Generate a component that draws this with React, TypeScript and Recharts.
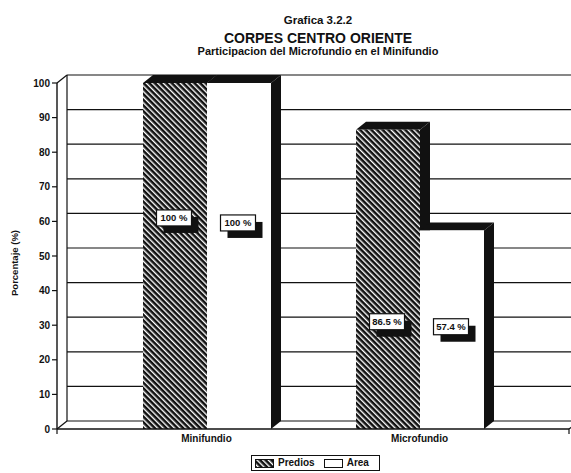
import React from 'react';
import { BarChart, Bar, XAxis, YAxis, CartesianGrid } from 'recharts';

const categories = ['Minifundio', 'Microfundio'];
const prediosPct = [100, 86.5];
const areaPct = [100, 57.4];
const yTicks = [0, 10, 20, 30, 40, 50, 60, 70, 80, 90, 100];
const seriesNames = ['Predios', 'Area'];

const data = categories.map((name, i) => ({ name, predios: prediosPct[i], area: areaPct[i] }));

const FONT = '"Liberation Sans", Arial, Helvetica, sans-serif';
const INK = '#111';
// 3D depth of the walls and bars
const DX = 10;
const DY = -8;

// height (in % of the axis) where the value boxes sit
const labelLevel: Record<string, number> = { Minifundio: 61, Microfundio: 31 };

const valueBox = (cx: number, cy: number, text: string) => {
  const bw = 35;
  const bh = 16;
  return (
    <g>
      <rect x={cx - bw / 2 + 7} y={cy - bh / 2 + 7} width={bw} height={bh} fill={INK} />
      <rect x={cx - bw / 2} y={cy - bh / 2} width={bw} height={bh} fill="#fff" stroke={INK} strokeWidth={1.2} />
      <text x={cx} y={cy} dy="0.35em" textAnchor="middle" fontSize={9.5} fontWeight="bold" fontFamily={FONT} fill={INK}>
        {text}
      </text>
    </g>
  );
};

const bar3d = (key: 'predios' | 'area', fill: string, boxShift: number) => (props: any) => {
  const { x, y, width: w, height: h, payload } = props;
  if (!h) return <g />;
  const value = payload[key];
  const cy = y + h - (labelLevel[payload.name] * h) / value + boxShift;
  return (
    <g>
      <polygon points={`${x + w},${y} ${x + w + DX},${y + DY} ${x + w + DX},${y + h + DY} ${x + w},${y + h}`} fill={INK} />
      <polygon points={`${x},${y} ${x + DX},${y + DY} ${x + w + DX},${y + DY} ${x + w},${y}`} fill={INK} />
      <rect x={x} y={y} width={w} height={h} fill={fill} />
      {valueBox(x + w / 2 - 1, cy, `${value} %`)}
    </g>
  );
};

// back wall grid lines, shifted by the depth
const backLine = (p: any) => (
  <line key={p.key} x1={p.x1 + DX} y1={p.y1 + DY} x2={p.x2 + DX + 20} y2={p.y2 + DY} stroke={INK} strokeWidth={1.2} />
);

// wall edges, floor diagonals and the x tick marks at the frame ticks
const wallEdge = (p: any) => {
  const left = p.index === 0 || p.x1 === p.x;
  return (
    <g key={p.key}>
      <line x1={p.x1} y1={p.y2} x2={p.x1 + DX} y2={p.y2 + DY} stroke={INK} strokeWidth={1.2} />
      <line x1={p.x1} y1={p.y2} x2={p.x1} y2={p.y2 + 5} stroke={INK} strokeWidth={1.2} />
      {left && <line x1={p.x1} y1={p.y1} x2={p.x1 + DX} y2={p.y1 + DY} stroke={INK} strokeWidth={1.2} />}
      {left && <line x1={p.x1 + DX} y1={p.y1 + DY} x2={p.x1 + DX} y2={p.y2 + DY} stroke={INK} strokeWidth={1.2} />}
    </g>
  );
};

const yLabel = (props: any) => {
  const vb = props.viewBox || {};
  const cx = 15;
  const cy = vb.y + vb.height / 2 + 7;
  return (
    <text x={cx} y={cy} transform={`rotate(-90 ${cx} ${cy})`} textAnchor="middle" dy="0.35em" fontSize={9.5} fontWeight="bold" fontFamily={FONT} fill={INK}>
      Porcentaje (%)
    </text>
  );
};

const Swatch = ({ hatch }: { hatch: boolean }) => (
  <svg width={19} height={9} style={{ display: 'block' }}>
    <defs>
      <pattern id="lg-hatch" width={4} height={4} patternUnits="userSpaceOnUse" patternTransform="rotate(-45)">
        <rect width={4} height={4} fill={INK} />
        <rect width={1.4} height={4} fill="#fff" />
      </pattern>
    </defs>
    <rect x={0.5} y={0.5} width={18} height={8} fill={hatch ? 'url(#lg-hatch)' : '#fff'} stroke={INK} strokeWidth={1} />
  </svg>
);

const titleStyle = (top: number, size: number): React.CSSProperties => ({
  position: 'absolute',
  top,
  left: 0,
  width: 636,
  textAlign: 'center',
  fontFamily: FONT,
  fontWeight: 'bold',
  fontSize: size,
  lineHeight: `${size}px`,
  color: INK,
  whiteSpace: 'nowrap',
});

export default function App() {
  return (
    <div style={{ position: 'absolute', left: 0, top: 0, width: 571, height: 473, background: '#fff', overflow: 'hidden' }}>
      <div style={titleStyle(15, 11.5)}>Grafica 3.2.2</div>
      <div style={titleStyle(31, 14)}>CORPES CENTRO ORIENTE</div>
      <div style={titleStyle(45.5, 11)}>Participacion del Microfundio en el Minifundio</div>

      <BarChart
        width={571}
        height={473}
        data={data}
        margin={{ top: 83, right: 2, bottom: 24, left: 0 }}
        barCategoryGap={43}
        barGap={0}
      >
        <defs>
          <pattern id="hatch" width={4} height={4} patternUnits="userSpaceOnUse" patternTransform="rotate(-45)">
            <rect width={4} height={4} fill={INK} />
            <rect width={1.4} height={4} fill="#fff" />
          </pattern>
        </defs>
        <CartesianGrid xAxisId="frame" horizontal={backLine} vertical={wallEdge} />
        <XAxis
          xAxisId="frame"
          type="number"
          domain={[0, categories.length]}
          ticks={categories.map((_, i) => i).concat(categories.length)}
          hide
        />
        <XAxis
          xAxisId="cat"
          dataKey="name"
          padding={{ left: 43, right: 43 }}
          axisLine={{ stroke: INK, strokeWidth: 1.4 }}
          tickLine={false}
          tickSize={0}
          tickMargin={6}
          height={20}
          tick={{ fontSize: 10, fontWeight: 'bold', fontFamily: FONT, fill: INK }}
        />
        <YAxis
          domain={[0, 100]}
          ticks={yTicks}
          width={57}
          tickSize={5}
          tickMargin={2}
          axisLine={{ stroke: INK, strokeWidth: 1.4 }}
          tickLine={{ stroke: INK, strokeWidth: 1.2 }}
          tick={{ fontSize: 10, fontWeight: 'bold', fontFamily: FONT, fill: INK }}
          label={yLabel}
        />
        <Bar xAxisId="cat" dataKey="predios" name={seriesNames[0]} isAnimationActive={false} shape={bar3d('predios', 'url(#hatch)', 0)} />
        <Bar xAxisId="cat" dataKey="area" name={seriesNames[1]} isAnimationActive={false} shape={bar3d('area', '#fff', 5)} />
      </BarChart>

      <div
        style={{
          position: 'absolute',
          left: 251,
          top: 455,
          display: 'flex',
          alignItems: 'center',
          gap: 4,
          border: `1px solid ${INK}`,
          padding: '1px 10px 1px 3px',
          fontFamily: FONT,
          fontWeight: 'bold',
          fontSize: 10,
          lineHeight: '12px',
          color: INK,
        }}
      >
        <Swatch hatch />
        <span>{seriesNames[0]}</span>
        <span style={{ width: 1 }} />
        <Swatch hatch={false} />
        <span>{seriesNames[1]}</span>
      </div>
    </div>
  );
}
